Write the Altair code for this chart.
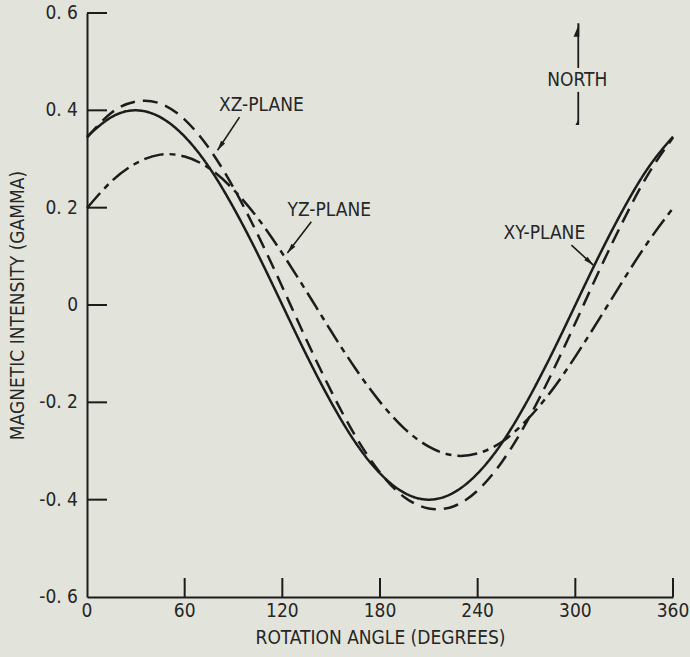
import altair as alt
import pandas as pd

# ---------------- data ----------------
angles = [0, 15, 30, 45, 60, 75, 90, 105, 120, 135, 150, 165, 180,
          195, 210, 225, 240, 255, 270, 285, 300, 315, 330, 345, 360]
xy_plane = [0.346, 0.386, 0.400, 0.386, 0.346, 0.283, 0.200, 0.104, 0.000,
            -0.104, -0.200, -0.283, -0.346, -0.386, -0.400, -0.386, -0.346,
            -0.283, -0.200, -0.104, 0.000, 0.104, 0.200, 0.283, 0.346]
xz_plane = [0.344, 0.395, 0.418, 0.414, 0.381, 0.322, 0.241, 0.144, 0.037,
            -0.073, -0.177, -0.270, -0.344, -0.395, -0.418, -0.414, -0.381,
            -0.322, -0.241, -0.144, -0.037, 0.073, 0.177, 0.270, 0.344]
yz_plane = [0.199, 0.254, 0.291, 0.309, 0.305, 0.281, 0.237, 0.178, 0.106,
            0.027, -0.054, -0.131, -0.199, -0.254, -0.291, -0.309, -0.305,
            -0.281, -0.237, -0.178, -0.106, -0.027, 0.054, 0.131, 0.199]
series_names = ["XY-PLANE", "XZ-PLANE", "YZ-PLANE"]

x_ticks = [0, 60, 120, 180, 240, 300, 360]
x_tick_labels = ["0", "60", "120", "180", "240", "300", "360"]
y_ticks = [0.6, 0.4, 0.2, 0.0, -0.2, -0.4, -0.6]
y_tick_labels = ["0. 6", "0. 4", "0. 2", "0", "-0. 2", "-0. 4", "-0. 6"]

# annotations (positions in data units)
label_text = ["XZ-PLANE", "YZ-PLANE", "XY-PLANE", "NORTH"]
label_x = [107.1, 148.8, 281.0, 301.2]
label_y = [0.411, 0.195, 0.148, 0.462]
arrow_x1 = [93.7, 137.8, 297.6]
arrow_y1 = [0.386, 0.171, 0.123]
arrow_x2 = [80.2, 123.1, 311.0]
arrow_y2 = [0.318, 0.107, 0.082]
arrow_dir = [214, 218, 132]
north_x = 301.8
north_segments_y1 = [0.579, 0.438]
north_segments_y2 = [0.487, 0.370]

# ---------------- styling ----------------
W, H = 586, 584
BG = "#e2e4dc"
INK = "#1c1c1c"
TXT = "#262626"
FONT = "Liberation Sans Narrow, DejaVu Sans Condensed, Liberation Sans, sans-serif"
FS = 19

rows = []
for name, vals in zip(series_names, [xy_plane, xz_plane, yz_plane]):
    for a, v in zip(angles, vals):
        rows.append({"angle": a, "value": v, "series": name})
df = pd.DataFrame(rows)

xs = alt.Scale(domain=[0, 360], nice=False, zero=False)
ys = alt.Scale(domain=[-0.6, 0.6], nice=False, zero=False)

lines = alt.Chart(df).mark_line(interpolate="natural", strokeWidth=2.5, color=INK).encode(
    x=alt.X("angle:Q", scale=xs,
            axis=alt.Axis(labels=False, ticks=False, grid=False, domainColor=INK,
                          domainWidth=2, title="ROTATION ANGLE (DEGREES)",
                          titleFont=FONT, titleFontSize=FS, titleFontWeight="normal",
                          titleColor=TXT, titlePadding=31)),
    y=alt.Y("value:Q", scale=ys,
            axis=alt.Axis(labels=False, ticks=False, grid=False, domainColor=INK,
                          domainWidth=2, title="MAGNETIC INTENSITY (GAMMA)",
                          titleFont=FONT, titleFontSize=FS, titleFontWeight="normal",
                          titleColor=TXT, titlePadding=60)),
    strokeDash=alt.StrokeDash("series:N", legend=None,
                              scale=alt.Scale(domain=series_names,
                                              range=[[1, 0], [15, 8], [20, 6, 6, 6]])),
    detail="series:N",
)

ydf = pd.DataFrame({"v": y_ticks, "lab": y_tick_labels})
xdf = pd.DataFrame({"t": x_ticks, "lab": x_tick_labels})

y_tick_rules = alt.Chart(ydf[ydf.v > -0.6]).mark_rule(color=INK, strokeWidth=2).encode(
    y=alt.Y("v:Q", scale=ys), x=alt.value(0), x2=alt.value(20))
x_tick_rules = alt.Chart(xdf[xdf.t > 0]).mark_rule(color=INK, strokeWidth=2).encode(
    x=alt.X("t:Q", scale=xs), y=alt.value(H), y2=alt.value(H - 19))

y_labels = alt.Chart(ydf).mark_text(align="right", baseline="middle", font=FONT,
                                    fontSize=FS, color=TXT).encode(
    y=alt.Y("v:Q", scale=ys), x=alt.value(-9), text="lab:N")
x_labels = alt.Chart(xdf).mark_text(align="center", baseline="middle", font=FONT,
                                    fontSize=FS, color=TXT).encode(
    x=alt.X("t:Q", scale=xs), y=alt.value(H + 14), text="lab:N")

ann = pd.DataFrame({"txt": label_text, "x": label_x, "y": label_y})
ann_text = alt.Chart(ann).mark_text(align="center", baseline="middle", font=FONT,
                                    fontSize=FS, color=TXT).encode(
    x=alt.X("x:Q", scale=xs), y=alt.Y("y:Q", scale=ys), text="txt:N")

arr = pd.DataFrame({"x1": arrow_x1, "y1": arrow_y1, "x2": arrow_x2, "y2": arrow_y2,
                    "ang": arrow_dir})
arrow_lines = alt.Chart(arr).mark_rule(color=INK, strokeWidth=1.6).encode(
    x=alt.X("x1:Q", scale=xs), y=alt.Y("y1:Q", scale=ys),
    x2="x2:Q", y2="y2:Q")
arrow_heads = alt.Chart(arr).mark_point(
    shape="M0,0L0.55,2.2L-0.55,2.2Z", filled=True, color=INK, size=80, opacity=1
).encode(x=alt.X("x2:Q", scale=xs), y=alt.Y("y2:Q", scale=ys),
         angle=alt.Angle("ang:Q", scale=None))

nd = pd.DataFrame({"x": [north_x, north_x], "y1": north_segments_y1,
                   "y2": north_segments_y2})
north_lines = alt.Chart(nd).mark_rule(color=INK, strokeWidth=1.8).encode(
    x=alt.X("x:Q", scale=xs), y=alt.Y("y1:Q", scale=ys), y2="y2:Q")
north_top = alt.Chart(nd.iloc[[0]]).mark_point(
    shape="M0.2,0L0.2,2.6L-0.9,2.6Z", filled=True, color=INK, size=110, opacity=1
).encode(x=alt.X("x:Q", scale=xs), y=alt.Y("y1:Q", scale=ys))
north_bottom = alt.Chart(nd.iloc[[1]]).mark_point(
    shape="M0.2,0L0.2,-2L-0.9,0Z", filled=True, color=INK, size=40, opacity=1
).encode(x=alt.X("x:Q", scale=xs), y=alt.Y("y2:Q", scale=ys))

chart = alt.layer(
    lines, y_tick_rules, x_tick_rules, y_labels, x_labels, ann_text,
    arrow_lines, arrow_heads, north_lines, north_top, north_bottom
).properties(
    width=W, height=H, background=BG,
    padding={"left": 87, "top": 13, "right": 17, "bottom": 60},
    autosize=alt.AutoSizeParams(type="none"),
).configure_view(stroke=None)

chart.save("out.html", embed_options={"renderer": "svg", "actions": False})
